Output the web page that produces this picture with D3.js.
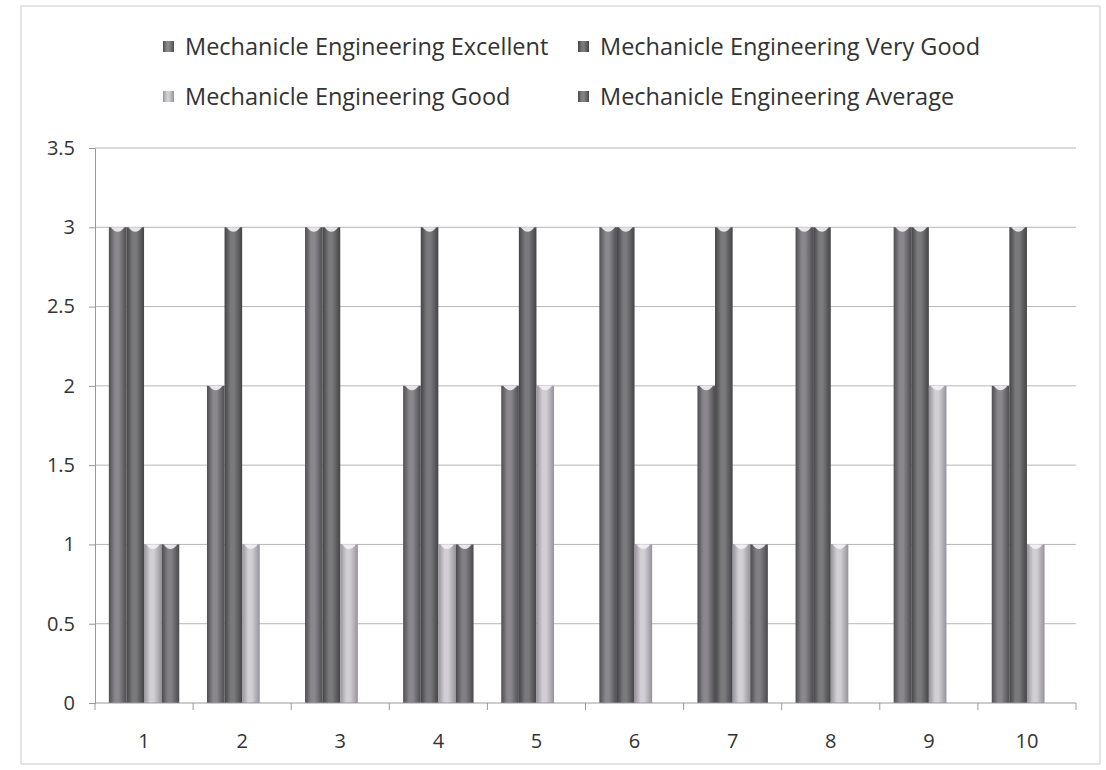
<!DOCTYPE html>
<html><head><meta charset="utf-8">
<script src="https://cdn.jsdelivr.net/npm/d3@7"></script>
<style>body{margin:0;background:#fff;} text{font-family:"Open Sans",sans-serif;fill:#333;}</style>
</head><body><svg id="c" width="1106" height="770"></svg>
<script>
const categories = ["1","2","3","4","5","6","7","8","9","10"];
const seriesNames = ["Mechanicle Engineering Excellent","Mechanicle Engineering Very Good","Mechanicle Engineering Good","Mechanicle Engineering Average"];
const excellent = [3,2,3,2,2,3,2,3,3,2];
const veryGood  = [3,3,3,3,3,3,3,3,3,3];
const good      = [1,1,1,1,2,1,1,1,2,1];
const average   = [1,0,0,1,0,0,1,0,0,0];
const yTicks = [0,0.5,1,1.5,2,2.5,3,3.5];
const seriesValues = [excellent, veryGood, good, average];
const colors = [["#4e4d50","#8a888c"],["#444345","#7a797c"],["#96929a","#d2cfd4"],["#4a494c","#828084"]];

const svg = d3.select("#c");
const defs = svg.append("defs");
colors.forEach((c,i)=>{
  const g = defs.append("linearGradient").attr("id","g"+i).attr("x1","0").attr("x2","1").attr("y1","0").attr("y2","0");
  g.append("stop").attr("offset","0").attr("stop-color",c[0]);
  g.append("stop").attr("offset","0.35").attr("stop-color",c[1]);
  g.append("stop").attr("offset","0.55").attr("stop-color",c[1]);
  g.append("stop").attr("offset","1").attr("stop-color",c[0]);
});

// outer frame
svg.append("rect").attr("x",21).attr("y",6).attr("width",1079).attr("height",758)
  .attr("fill","none").attr("stroke","#d4d2d6").attr("stroke-width",1.2);

const pLeft=95, pRight=1076, pTop=148, pBottom=703;
const x = d3.scaleBand().domain(categories).range([pLeft,pRight]);
const y = d3.scaleLinear().domain([0,3.5]).range([pBottom,pTop]);
const bw = 17.6;
const x1 = d3.scaleBand().domain(d3.range(4)).range([0,bw*4]);

// gridlines
svg.append("g").selectAll("line").data(yTicks.filter(d=>d>0)).join("line")
  .attr("x1",pLeft).attr("x2",pRight).attr("y1",d=>y(d)).attr("y2",d=>y(d))
  .attr("stroke","#b8b6ba").attr("stroke-width",1);

// bars
const groups = svg.append("g").selectAll("g").data(categories).join("g")
  .attr("transform",d=>`translate(${x(d)+x.bandwidth()/2-bw*2},0)`);
groups.each(function(cat,ci){
  const g = d3.select(this);
  seriesValues.forEach((vals,si)=>{
    const v = vals[ci];
    if(v<=0) return;
    const bx = x1(si);
    g.append("rect").attr("x",bx).attr("y",y(v)).attr("width",bw).attr("height",y(0)-y(v))
      .attr("fill",`url(#g${si})`);
    g.append("path").attr("d",`M${bx+2},${y(v)} Q${bx+bw/2},${y(v)+9} ${bx+bw-2},${y(v)} Z`)
      .attr("fill","#f4f2f5").attr("opacity",0.9);
  });
});

// axes
const ya = svg.append("g").attr("transform",`translate(${pLeft},0)`)
  .call(d3.axisLeft(y).tickValues(yTicks).tickSize(6).tickPadding(14).tickFormat(d3.format("~g")));
ya.selectAll("path,line").attr("stroke","#9a989c");
ya.selectAll("text").style("font-size","20px").attr("fill","#333");

const xa = svg.append("g").attr("transform",`translate(0,${pBottom})`);
xa.append("line").attr("x1",pLeft).attr("x2",pRight).attr("y1",0).attr("y2",0).attr("stroke","#9a989c");
xa.selectAll("line.t").data(categories.concat(["end"])).join("line").attr("class","t")
  .attr("x1",(d,i)=>pLeft+i*x.bandwidth()).attr("x2",(d,i)=>pLeft+i*x.bandwidth())
  .attr("y1",0).attr("y2",7).attr("stroke","#9a989c");
xa.selectAll("text").data(categories).join("text")
  .attr("x",d=>x(d)+x.bandwidth()/2).attr("y",45).attr("text-anchor","middle")
  .style("font-size","20px").text(d=>d);

// legend
const legPos = [[163,47],[578,47],[163,97],[578,97]];
seriesNames.forEach((n,i)=>{
  const [lx,ly]=legPos[i];
  svg.append("rect").attr("x",lx).attr("y",ly-6).attr("width",11).attr("height",11).attr("fill",`url(#g${i})`);
  svg.append("text").attr("x",lx+22).attr("y",ly+8).style("font-size","23.5px").text(n);
});
</script></body></html>
